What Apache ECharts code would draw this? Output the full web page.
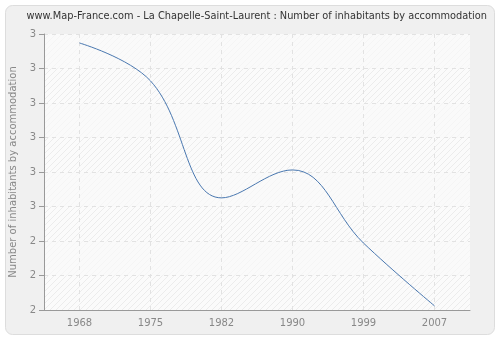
<!DOCTYPE html>
<html>
<head>
<meta charset="utf-8">
<script src="https://cdn.jsdelivr.net/npm/echarts@6/dist/echarts.min.js"></script>
<style>
html,body{margin:0;padding:0;background:#fff;}
#chart{width:500px;height:340px;}
</style>
</head>
<body>
<div id="chart"></div>
<script>
var title = 'www.Map-France.com - La Chapelle-Saint-Laurent : Number of inhabitants by accommodation';
var yAxisName = 'Number of inhabitants by accommodation';
var years = ['1968', '1975', '1982', '1990', '1999', '2007'];
var values = [2.974, 2.864, 2.525, 2.606, 2.394, 2.212];
var yMin = 2.2, yMax = 3.0, yStep = 0.1;

// hatch pattern
var pc = document.createElement('canvas');
pc.width = 6; pc.height = 6;
var g = pc.getContext('2d');
g.fillStyle = '#fbfbfb';
g.fillRect(0, 0, 6, 6);
g.strokeStyle = '#ececec';
g.lineWidth = 1;
g.beginPath();
g.moveTo(0, 6); g.lineTo(6, 0);
g.moveTo(-1, 1); g.lineTo(1, -1);
g.moveTo(5, 7); g.lineTo(7, 5);
g.stroke();

var chart = echarts.init(document.getElementById('chart'), null, {renderer: 'canvas'});
chart.setOption({
  animation: false,
  backgroundColor: '#ffffff',
  graphic: [{
    type: 'rect', z: -10, silent: true,
    shape: {x: 5.5, y: 5.5, width: 489, height: 329, r: 7},
    style: {fill: '#f0f0f0', stroke: '#dddddd', lineWidth: 1}
  }],
  title: {
    text: title, right: 8, top: 6,
    textStyle: {fontFamily: 'DejaVu Sans', fontSize: 9.8, fontWeight: 'normal', color: '#333'}
  },
  grid: {
    left: 40, right: 30, top: 34, bottom: 30,
    show: true, backgroundColor: {image: pc, repeat: 'repeat'}, borderWidth: 0
  },
  xAxis: {
    type: 'category', data: years, boundaryGap: true,
    axisLine: {lineStyle: {color: '#999'}},
    axisTick: {alignWithLabel: true, lineStyle: {color: '#999'}, length: 5},
    axisLabel: {color: '#888', fontFamily: 'DejaVu Sans', fontSize: 10, margin: 8},
    splitLine: {show: true, alignWithLabel: true, lineStyle: {color: '#e2e2e2', type: [4, 4]}}
  },
  yAxis: {
    type: 'value', min: yMin, max: yMax, interval: yStep,
    name: yAxisName, nameLocation: 'middle', nameGap: 26,
    nameTextStyle: {color: '#888', fontFamily: 'DejaVu Sans', fontSize: 10},
    axisLine: {show: true, lineStyle: {color: '#999'}},
    axisTick: {show: true, lineStyle: {color: '#999'}, length: 5},
    axisLabel: {color: '#888', fontFamily: 'DejaVu Sans', fontSize: 10, margin: 8,
      formatter: function (v) { return String(Math.round(v + 1e-9)); }},
    splitLine: {show: true, lineStyle: {color: '#e2e2e2', type: [4, 4]}},
    splitArea: {show: true, areaStyle: {color: ['rgba(250,250,250,0)', 'rgba(250,250,250,0.7)']}}
  },
  series: [{
    type: 'line', data: values, smooth: 0.4, symbol: 'none',
    lineStyle: {color: '#4a78b0', width: 1}
  }]
});
</script>
</body>
</html>
